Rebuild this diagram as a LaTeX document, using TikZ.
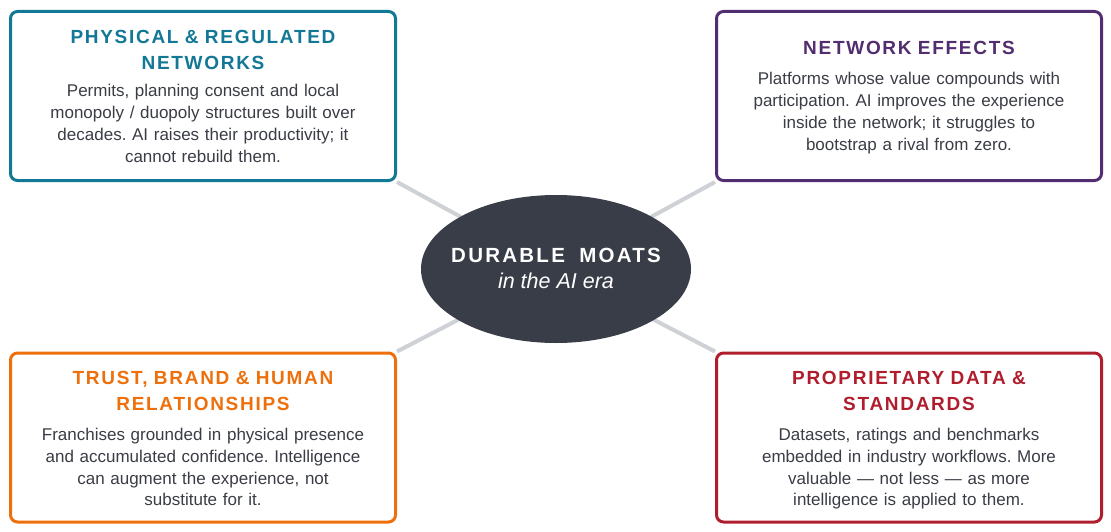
\documentclass[tikz,border=0pt]{standalone}
\usepackage{fontspec}
\setmainfont{Liberation Sans}
\newfontfamily\titlefont[LetterSpace=9,WordSpace=1.6]{Liberation Sans}
\newfontfamily\hubfont[LetterSpace=11,WordSpace=1.8]{Liberation Sans}
\usetikzlibrary{shapes.geometric,backgrounds}
\definecolor{cteal}{RGB}{18,120,150}
\definecolor{cpurple}{RGB}{82,45,112}
\definecolor{corange}{RGB}{238,112,12}
\definecolor{cred}{RGB}{176,30,46}
\definecolor{hubfill}{RGB}{57,61,71}
\definecolor{bodytext}{RGB}{58,61,69}
\definecolor{linkgray}{RGB}{206,209,214}
\frenchspacing
\begin{document}
\begin{tikzpicture}[x=1pt,y=-1pt,
  box/.style={draw, line width=3pt, rounded corners=7pt, fill=white,
    minimum width=385pt, minimum height=169pt, inner sep=0pt},
  ttl/.style={anchor=base, text width=380pt, align=center, inner sep=0pt,
    font=\titlefont\fontsize{19}{26}\selectfont\bfseries},
  body/.style={anchor=base, text width=380pt, align=center, inner sep=0pt,
    text=bodytext, font=\frenchspacing\fontsize{17}{21.8}\selectfont},
  link/.style={draw=linkgray, line width=4pt}]
\useasboundingbox (0,0) rectangle (1111,532);

% boxes
\node[box, draw=cteal]   (tl) at (203,96) {};
\node[box, draw=cpurple] (tr) at (909,96) {};
\node[box, draw=corange] (bl) at (203,437.5) {};
\node[box, draw=cred]    (br) at (909,437.5) {};

% hub
\node[ellipse, fill=hubfill, minimum width=270pt, minimum height=148pt, inner sep=0pt] (hub) at (556,269) {};
\node[anchor=base, inner sep=0pt, text=white, font=\hubfont\fontsize{20.5}{24}\selectfont\bfseries] (hubt) at (556,262.3) {DURABLE MOATS};
\node[anchor=base, inner sep=0pt, text=white, font=\fontsize{21.5}{24}\selectfont\itshape] (hubs) at (556,288.3) {in the AI era};

% connectors
\begin{pgfonlayer}{background}
\draw[link] (tl.south east) -- (hub.center);
\draw[link] (tr.south west) -- (hub.center);
\draw[link] (bl.north east) -- (hub.center);
\draw[link] (br.north west) -- (hub.center);
\end{pgfonlayer}

% texts
\node[ttl, text=cteal] (tlt) at (203,44) {PHYSICAL \& REGULATED\\NETWORKS};
\node[body] (tlb) at (203,96.7) {Permits, planning consent and local\\monopoly / duopoly structures built over\\decades. AI raises their productivity; it\\cannot rebuild them.};

\node[ttl, text=cpurple] (trt) at (909,55) {NETWORK EFFECTS};
\node[body] (trb) at (909,85) {Platforms whose value compounds with\\participation. AI improves the experience\\inside the network; it struggles to\\bootstrap a rival from zero.};

\node[ttl, text=corange] (blt) at (203,384.5) {TRUST, BRAND \& HUMAN\\RELATIONSHIPS};
\node[body] (blb) at (203,440.5) {Franchises grounded in physical presence\\and accumulated confidence. Intelligence\\can augment the experience, not\\substitute for it.};

\node[ttl, text=cred] (brt) at (909,384.5) {PROPRIETARY DATA \&\\STANDARDS};
\node[body] (brb) at (909,440.5) {Datasets, ratings and benchmarks\\embedded in industry workflows. More\\valuable — not less — as more\\intelligence is applied to them.};
\end{tikzpicture}
\end{document}
